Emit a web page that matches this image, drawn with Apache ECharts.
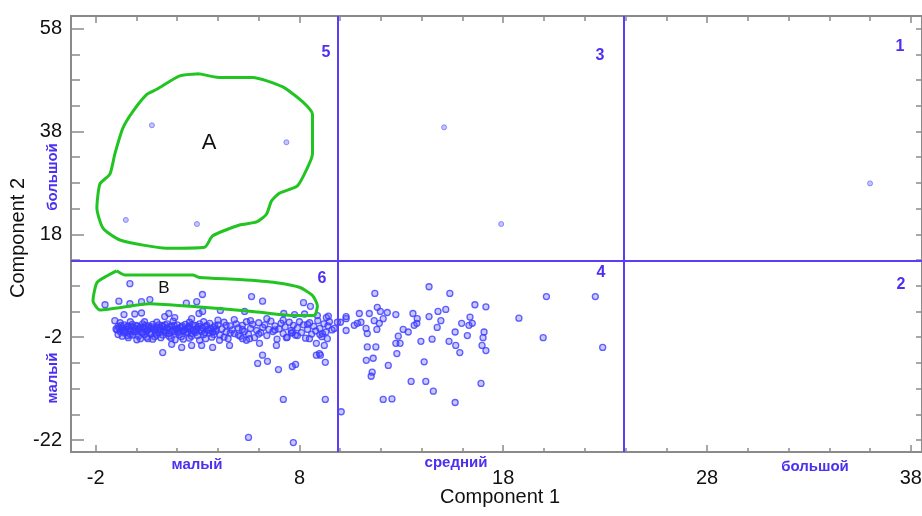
<!DOCTYPE html>
<html>
<head>
<meta charset="utf-8">
<script src="https://cdn.jsdelivr.net/npm/echarts@6/dist/echarts.min.js"></script>
<style>
  html, body { margin: 0; padding: 0; background: #fff; }
  #chart { width: 922px; height: 516px; }
</style>
</head>
<body>
<div id="chart"></div>
<script>
// tick values
const xTickValues = [-2, 8, 18, 28, 38];
const xMinorValues = [-2, 0, 2, 4, 6, 8, 10, 12, 14, 16, 18, 20, 22, 24, 26, 28, 30, 32, 34, 36, 38];
const yTickValues = [-22, -2, 18, 38, 58];
const yMinorValues = [-22, -17, -12, -7, -2, 3, 8, 13, 18, 23, 28, 33, 38, 43, 48, 53, 58];

// quadrant borders
const splitsX = [9.9, 23.9];
const splitsY = [12.9];

// sparse points in the upper half
const scoresUpper = [
    [0.76, 39.2], [7.36, 35.9], [-0.52, 20.8], [2.97, 20.0],
    [15.1, 38.8], [17.9, 20.0], [36.0, 27.9]
];

// points in the lower half (component 1, component 2)
const scoresLower = [
    // group B
    [-0.32, 8.4], [-1.54, 4.3], [-0.86, 5.0], [-0.32, 4.5], [0.25, 4.9], [0.66, 5.3],
    [3.24, 6.3], [2.96, 4.9], [2.45, 4.6], [5.65, 5.9], [6.19, 5.0], [8.20, 4.7], [8.54, 4.0],
    // just under B
    [-0.61, 2.4], [-0.08, 2.5], [0.25, 2.7], [1.59, 2.6], [3.07, 2.6], [3.25, 3.0], [4.12, 3.2],
    [5.31, 3.0], [7.23, 2.6], [7.76, 2.4], [8.25, 2.5], [8.88, 2.2], [9.42, 2.1], [10.29, 1.6],
    [9.86, 0.9], [-1.06, 1.2], [1.39, 2.0], [1.88, 1.8], [2.71, 1.6],
    // dense band
    [-1.0, -0.4], [-0.9, 0.1], [-0.8, -0.9], [-0.7, -0.2], [-0.6, 0.4], [-0.6, -1.2], [-0.5, -0.5],
    [-0.4, 0.2], [-0.3, -1.5], [-0.3, -0.8], [-0.2, 0.5], [-0.1, -0.2], [0.0, -1.0], [0.0, 0.3],
    [0.1, -1.8], [0.1, -0.6], [0.2, 0.0], [0.3, -1.2], [0.3, 0.6], [0.4, -0.4], [0.5, -2.0],
    [0.5, -0.9], [0.6, 0.2], [0.7, -1.4], [0.7, -0.3], [0.8, 0.5], [0.9, -0.7], [0.9, -1.9],
    [1.0, 0.0], [1.1, -1.1], [1.1, 0.4], [1.2, -0.5], [1.3, -1.6], [1.3, 0.1], [1.4, -0.9],
    [1.5, 0.6], [1.5, -0.2], [1.6, -1.3], [1.7, -2.2], [1.7, 0.2], [1.8, -0.6], [1.9, -1.0],
    [2.0, 0.4], [2.0, -0.3], [2.1, -1.5], [2.2, 0.0], [2.3, -0.8], [2.3, -2.4], [2.4, 0.5],
    [2.5, -1.2], [2.5, -0.4], [2.6, 0.2], [2.7, -1.8], [2.8, -0.7], [2.9, 0.3], [2.9, -1.1],
    [3.0, -0.2], [3.1, -2.6], [3.1, 0.6], [3.2, -0.9], [3.3, -1.5], [3.4, 0.1], [3.5, -0.5],
    [3.6, -1.2], [3.6, 0.7], [3.7, -2.0], [3.8, -0.1], [3.9, -0.8], [4.0, 0.4], [4.1, -1.6],
    [4.2, -0.4], [4.3, 0.9], [4.4, -1.0], [4.5, -2.3], [4.6, 0.2], [4.7, -0.6], [4.8, -1.3],
    [4.9, 0.6], [5.0, -0.2], [5.1, -1.8], [5.2, 0.3], [5.3, -0.9], [5.4, 1.0], [5.5, -1.4],
    [5.6, -0.3], [5.7, 0.5], [5.8, -2.1], [5.9, -0.7], [6.0, 0.8], [6.1, -1.1], [6.2, -0.1],
    [6.3, 0.4], [6.4, -1.7], [6.5, -0.5], [6.6, 1.1], [6.7, -0.9], [6.8, 0.2], [6.9, -2.4],
    [7.0, -0.4], [7.1, 0.7], [7.2, -1.3], [7.3, 0.0], [7.4, -2.0], [7.5, 0.9], [7.6, -0.7],
    [7.7, 0.3], [7.8, -1.6], [7.9, -0.2], [8.0, 1.0], [8.1, -1.1], [8.2, 0.4], [8.3, -2.2],
    [8.4, -0.5], [8.5, 0.8], [8.6, -1.4], [8.7, 0.1], [8.8, -0.8], [8.9, 1.2], [9.0, -0.3],
    [9.1, -1.9], [9.2, 0.6], [9.3, -1.0], [9.4, 0.2], [9.6, -0.6],
    [-0.95, -0.6], [-0.85, -0.2], [-0.75, 0.3], [-0.65, -0.7], [-0.55, -1.0], [-0.45, 0.0],
    [-0.35, -0.4], [-0.25, 0.1], [-0.15, -0.9], [-0.05, -0.5], [0.05, 0.1], [0.15, -0.3],
    [0.25, -1.0], [0.35, -0.1], [0.45, 0.3], [0.55, -0.6], [0.65, -1.1], [0.75, 0.0],
    [0.85, -0.4], [0.95, -1.2], [1.05, -0.6], [1.15, -0.2], [1.25, 0.3], [1.35, -0.7],
    [1.45, -1.2], [1.55, -0.4], [1.65, 0.0], [1.75, -0.9], [1.85, 0.3], [1.95, -0.5],
    [2.05, -1.1], [2.15, -0.2], [2.25, 0.2], [2.35, -0.6], [2.45, -1.0], [2.55, 0.0],
    [2.65, -0.4], [2.75, 0.4], [2.85, -0.9], [2.95, -0.5], [3.05, 0.1], [3.15, -0.6],
    [3.25, -0.2], [3.35, -1.1], [3.45, 0.3], [3.55, -0.7], [3.65, -0.3], [3.75, -1.0], [3.85, 0.2],
    [-0.9, -1.5], [-0.7, -1.8], [-0.4, -2.1], [-0.2, -1.6], [0.2, -2.3], [0.4, -1.5], [0.8, -2.4],
    [1.0, -1.6], [1.2, -2.1], [1.6, -1.8], [1.9, -2.5], [2.2, -1.9], [2.6, -2.2], [3.0, -1.7],
    [3.4, -2.3], [3.8, -1.5], [4.3, -2.0], [4.6, -1.2], [5.0, -1.6], [5.4, -2.6], [-0.8, 0.8],
    [-0.3, 1.0], [0.4, 1.0], [1.0, 0.9], [1.8, 1.1], [2.6, 0.9], [3.3, 1.0], [4.0, 1.3],
    [4.8, 1.4], [5.6, 1.2], [6.4, 1.6], [7.2, 1.3], [0.6, -0.2], [1.4, 0.4], [2.1, -0.7],
    [2.7, -1.3], [3.9, -0.4], [4.4, 0.3], [5.2, -0.5], [6.0, -1.4], [6.8, -0.6], [7.6, -1.2],
    [8.4, 0.5], [9.0, -1.5],
    // below the band, left of the split
    [-0.42, -1.7], [0.02, -2.5], [0.56, -2.3], [1.29, -5.0], [1.73, -3.4], [2.22, -4.0],
    [2.71, -3.6], [3.20, -3.6], [3.74, -4.0], [6.04, -3.2], [5.55, -2.3], [5.21, -2.3],
    [4.57, -3.6], [4.08, -2.6], [6.87, -3.6], [7.36, -2.1], [7.65, -1.1], [7.90, -1.7],
    [8.49, -2.3], [8.83, -3.2], [9.13, -1.3], [9.22, -3.6], [9.37, -2.3], [9.71, -0.3],
    [9.32, 1.8], [9.47, 1.0], [6.19, -5.5], [5.95, -7.1], [6.43, -6.7], [6.97, -8.3],
    [7.65, -7.7], [7.81, -7.3], [8.83, -5.5], [9.03, -5.5], [9.27, -6.9], [8.98, -5.2],
    [7.21, -14.1], [9.27, -14.1], [10.05, -16.5], [5.50, -21.5], [7.70, -22.5],
    // right of the split
    [11.70, 6.5], [14.36, 7.8], [15.38, 6.5], [16.61, 4.3], [17.15, 3.9], [10.29, 2.0],
    [10.01, 0.9], [10.94, 2.6], [11.43, 2.6], [11.82, 3.8], [11.97, 3.0], [12.31, 2.8],
    [12.73, 2.4], [10.84, 0.7], [10.69, 0.3], [11.02, 0.9], [11.27, -0.3], [11.33, -1.3],
    [11.67, 1.2], [11.80, -0.5], [11.92, 0.7], [12.11, 1.6], [10.29, -0.7], [13.57, 2.6],
    [13.78, 1.6], [13.76, 0.7], [13.63, 0.3], [14.36, 2.0], [14.80, 3.0], [15.18, 3.4],
    [14.94, 1.2], [14.76, -0.1], [13.09, -0.5], [13.34, -1.0], [12.85, -1.8], [13.96, -2.8],
    [14.51, -2.4], [12.73, -3.2], [12.94, -3.2], [11.33, -3.9], [11.75, -3.9], [12.78, -5.2],
    [15.34, -2.8], [15.67, -3.6], [15.87, -5.0], [15.64, -1.0], [15.96, 0.7], [16.32, 0.3],
    [16.24, -1.7], [16.48, 0.7], [16.37, 1.9], [17.06, -1.0], [17.01, -2.1], [16.96, -3.6],
    [17.15, -4.6], [11.28, -6.5], [11.62, -6.1], [12.36, -7.5], [14.12, -6.8], [11.57, -8.8],
    [11.52, -9.6], [13.48, -10.6], [14.20, -10.6], [14.57, -12.5], [12.11, -14.1],
    [12.54, -14.0], [15.64, -14.7], [16.91, -11.0],
    [18.77, 1.7], [19.96, -2.1], [20.12, 5.9], [22.52, 5.9], [22.88, -4.0]
];

// hand drawn outlines A and B
const contourA = [
    [3.11, 49.2], [4.08, 48.5], [5.70, 48.5], [7.16, 46.7], [8.15, 43.8], [8.64, 41.3],
    [8.64, 33.6], [8.39, 30.9], [7.90, 27.4], [7.02, 26.0], [6.63, 24.5], [6.38, 21.9],
    [5.90, 20.4], [5.06, 19.8], [3.74, 17.7], [3.35, 15.5], [1.49, 15.3], [-0.81, 16.9],
    [-1.64, 19.2], [-1.94, 23.1], [-1.79, 27.8], [-1.30, 29.7], [-1.06, 33.6], [-0.67, 38.6],
    [-0.17, 41.9], [0.51, 45.2], [1.00, 46.2], [2.13, 48.8], [3.11, 49.2]
];
const contourB = [
    [-0.97, 10.9], [-0.57, 10.1], [2.76, 10.1], [3.11, 9.6], [5.06, 9.2], [6.87, 8.6],
    [8.00, 7.7], [8.64, 6.1], [8.88, 4.1], [8.73, 2.2], [7.66, 2.2], [5.70, 3.0],
    [2.96, 3.9], [0.66, 4.5], [-1.79, 3.3], [-2.13, 5.1], [-1.94, 8.6], [-1.45, 9.9], [-0.97, 10.9]
];

const X_MIN = -3.21, X_MAX = 38.55;
const Y_MIN = -24.33, Y_MAX = 60.45;

const GRAY = '#8a8a8a';
const BLUE = '#4b2ff2';
const LINE_BLUE = '#5a3df5';
const GREEN = '#22c422';
const FONT = "'Liberation Sans', Arial, sans-serif";

const chart = echarts.init(document.getElementById('chart'));

// одна ось = одна функция, чтобы не повторять
function xAx(pos, ticks, len, labels) {
    return {
        type: 'value', position: pos, min: X_MIN, max: X_MAX,
        axisLine: { show: true, onZero: false, lineStyle: { color: GRAY, width: 2 } },
        axisTick: { show: true, inside: true, length: len, customValues: ticks, lineStyle: { color: GRAY, width: 1.5 } },
        axisLabel: labels ? { customValues: ticks, color: '#111', fontSize: 20, margin: 16, fontFamily: FONT } : { show: false },
        splitLine: { show: false }
    };
}
function yAx(pos, ticks, len, labels) {
    return {
        type: 'value', position: pos, min: Y_MIN, max: Y_MAX,
        axisLine: { show: true, onZero: false, lineStyle: { color: GRAY, width: 2 } },
        axisTick: { show: true, inside: true, length: len, customValues: ticks, lineStyle: { color: GRAY, width: 1.5 } },
        axisLabel: labels ? { customValues: ticks, color: '#111', fontSize: 20, margin: 9, fontFamily: FONT } : { show: false },
        splitLine: { show: false }
    };
}

function txt(s, x, y, size, color, rot, bold) {
    return {
        type: 'text', x: x, y: y, rotation: rot || 0, silent: true,
        style: {
            text: s, fill: color, align: 'center', verticalAlign: 'middle',
            font: (bold ? 'bold ' : '') + size + 'px ' + FONT
        }
    };
}

const option = {
    backgroundColor: '#fff',
    animation: false,
    grid: { left: 71, top: 16, right: 0, bottom: 64, containLabel: false, outerBoundsMode: 'none' },
    xAxis: [
        xAx('bottom', xTickValues, 7, true),
        xAx('bottom', xMinorValues, 4, false),
        xAx('top', xTickValues, 7, false),
        xAx('top', xMinorValues, 5, false)
    ],
    yAxis: [
        yAx('left', yTickValues, 13, true),
        yAx('left', yMinorValues, 9, false),
        yAx('right', yTickValues, 6, false),
        yAx('right', yMinorValues, 6, false)
    ],
    series: [
        {
            type: 'line', data: [], silent: true,
            markLine: {
                silent: true, symbol: ['none', 'none'], label: { show: false },
                lineStyle: { color: LINE_BLUE, width: 2, type: 'solid' },
                data: splitsX.map(v => ({ xAxis: v })).concat(splitsY.map(v => ({ yAxis: v })))
            }
        },
        {
            type: 'scatter', data: scoresLower, symbol: 'circle', symbolSize: 6,
            itemStyle: { color: 'rgba(60,60,255,0.35)', borderColor: '#3a3aff', borderWidth: 1.3 }
        },
        {
            type: 'scatter', data: scoresUpper, symbol: 'circle', symbolSize: 5,
            itemStyle: { color: 'rgba(120,120,255,0.55)', borderColor: '#7373ff', borderWidth: 1 }
        },
        {
            type: 'line', data: contourA, smooth: 0.2, showSymbol: false, silent: true,
            lineStyle: { color: GREEN, width: 3 }
        },
        {
            type: 'line', data: contourB, smooth: 0.2, showSymbol: false, silent: true,
            lineStyle: { color: GREEN, width: 3 }
        }
    ],
    graphic: [
        txt('Component 1', 500, 497, 20, '#111'),
        txt('Component 2', 18, 238, 20, '#111', Math.PI / 2),
        txt('малый', 197, 465, 15, BLUE, 0, true),
        txt('средний', 456, 463, 15, BLUE, 0, true),
        txt('большой', 815, 467, 15, BLUE, 0, true),
        txt('малый', 53, 378, 15, BLUE, Math.PI / 2, true),
        txt('большой', 53, 177, 15, BLUE, Math.PI / 2, true),
        txt('5', 326, 53, 16, BLUE, 0, true),
        txt('3', 600, 56, 16, BLUE, 0, true),
        txt('1', 900, 47, 16, BLUE, 0, true),
        txt('6', 322, 279, 16, BLUE, 0, true),
        txt('4', 601, 273, 16, BLUE, 0, true),
        txt('2', 901, 285, 16, BLUE, 0, true),
        txt('A', 209, 143, 22, '#111'),
        txt('B', 164, 288, 17, '#111')
    ]
};

chart.setOption(option);
</script>
</body>
</html>
